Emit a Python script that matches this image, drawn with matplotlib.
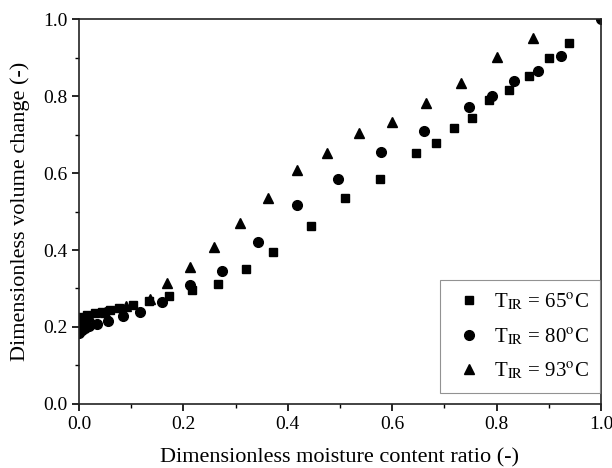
import numpy as np
import matplotlib
matplotlib.use("Agg")
import matplotlib.pyplot as plt
from matplotlib.ticker import MultipleLocator

plt.rcParams['font.family'] = ['Liberation Serif', 'DejaVu Serif']
plt.rcParams['mathtext.fontset'] = 'stix'

# T_IR = 65 C
x65 = [0.005, 0.015, 0.030, 0.045, 0.060, 0.077, 0.103, 0.135, 0.172, 0.216, 0.266, 0.320,
       0.372, 0.444, 0.510, 0.577, 0.646, 0.684, 0.718, 0.753, 0.785, 0.824, 0.862, 0.900, 0.939]
y65 = [0.225, 0.230, 0.236, 0.240, 0.245, 0.250, 0.257, 0.268, 0.281, 0.296, 0.312, 0.351,
       0.395, 0.462, 0.535, 0.584, 0.652, 0.678, 0.716, 0.742, 0.790, 0.816, 0.852, 0.899, 0.937]

# T_IR = 80 C
x80 = [0.000, 0.005, 0.012, 0.020, 0.035, 0.056, 0.084, 0.117, 0.159, 0.213, 0.274, 0.343,
       0.418, 0.496, 0.578, 0.661, 0.747, 0.791, 0.833, 0.879, 0.923, 1.000]
y80 = [0.185, 0.192, 0.198, 0.203, 0.208, 0.215, 0.228, 0.239, 0.264, 0.310, 0.345, 0.421,
       0.517, 0.584, 0.655, 0.709, 0.772, 0.800, 0.839, 0.865, 0.904, 1.000]

# T_IR = 93 C
x93 = [0.000, 0.010, 0.020, 0.050, 0.090, 0.136, 0.168, 0.213, 0.259, 0.308, 0.362, 0.417,
       0.475, 0.536, 0.600, 0.665, 0.732, 0.800, 0.870]
y93 = [0.215, 0.222, 0.228, 0.240, 0.255, 0.272, 0.315, 0.355, 0.408, 0.470, 0.535, 0.608,
       0.652, 0.704, 0.733, 0.782, 0.834, 0.901, 0.951]

fig = plt.figure(figsize=(6.12, 4.68), dpi=100)
ax = fig.add_axes([0.129, 0.137, 0.853, 0.822])

ax.plot(x65, y65, 's', color='black', markersize=6, label=r'T$_{\mathrm{IR}}$ = 65$^{\mathrm{o}}$C')
ax.plot(x80, y80, 'o', color='black', markersize=7, label=r'T$_{\mathrm{IR}}$ = 80$^{\mathrm{o}}$C')
ax.plot(x93, y93, '^', color='black', markersize=7, label=r'T$_{\mathrm{IR}}$ = 93$^{\mathrm{o}}$C')

ax.set_xlim(0, 1.0)
ax.set_ylim(0, 1.0)
ax.xaxis.set_major_locator(MultipleLocator(0.2))
ax.xaxis.set_minor_locator(MultipleLocator(0.1))
ax.yaxis.set_major_locator(MultipleLocator(0.2))
ax.yaxis.set_minor_locator(MultipleLocator(0.1))
ax.tick_params(which='major', direction='out', length=5, width=1.2, labelsize=14)
ax.tick_params(which='minor', direction='out', length=3, width=1.0)
for s in ax.spines.values():
    s.set_linewidth(1.2)
    s.set_color('#222222')

ax.set_xlabel('Dimensionless moisture content ratio (-)', fontsize=16, labelpad=11)
ax.set_ylabel('Dimensionless volume change (-)', fontsize=16, labelpad=9)

leg = ax.legend(loc='lower right', bbox_to_anchor=(0.998, 0.028), fontsize=15, frameon=True,
                fancybox=False, borderaxespad=0, handlelength=1.6, handletextpad=0.4,
                labelspacing=0.65, borderpad=0.55)
leg.get_frame().set_edgecolor('#777777')
leg.get_frame().set_linewidth(0.8)

fig.savefig('out.png', dpi=100)
